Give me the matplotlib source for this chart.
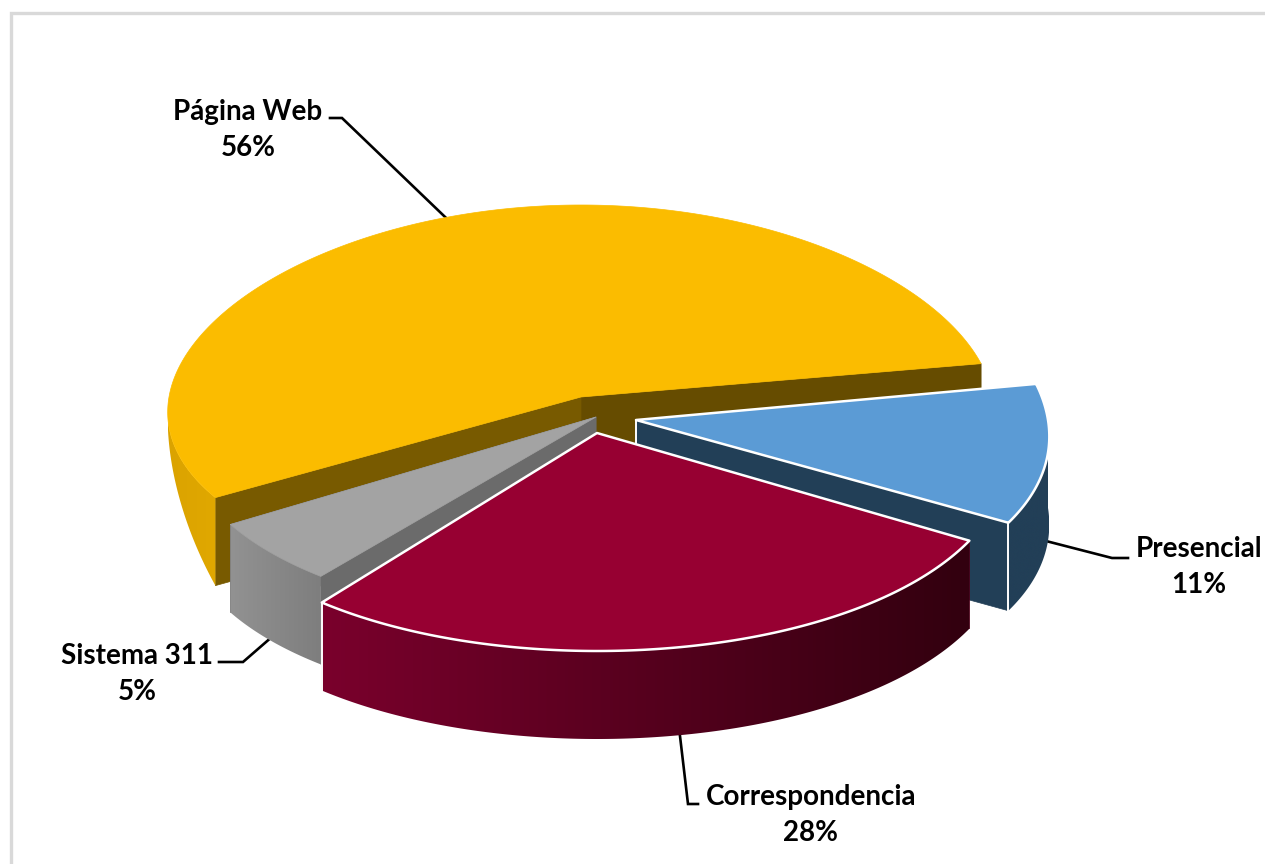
import matplotlib
matplotlib.use("Agg")
import matplotlib.pyplot as plt
import numpy as np
from matplotlib.colors import LinearSegmentedColormap
from matplotlib.patches import Polygon

# Data, clockwise from the Pagina Web slice (labels show them rounded)
categories = ["Página Web", "Sistema 311", "Correspondencia", "Presencial"]
values = [56, 5.4, 27.6, 11]

# Look of each slice: top colour, cut face colours, wall gradient
top_colors = ["#fbbc00", "#a3a3a3", "#970032", "#5b9bd5"]
face_colors = [("#785a00", "#664c00"), ("#6b6b6b", "#6b6b6b"),
               ("#5c001e", "#5c001e"), ("#223f57", "#223f57")]
wall_colors = [("#dba300", "#e0a800"), ("#929292", "#7e7e7e"),
               ("#7a002c", "#32000f"), ("#223f57", "#223f57")]
edge_colors = [None, None, "white", "white"]

# Layout in reference pixels
centers = [(581, 397), (596, 417), (597, 433), (636, 420)]
radii_y = [192, 205, 218, 208]
radius_x = 412
depth = 88
perspective = 0.08
start_angle = 10  # where the yellow slice starts, counter clockwise from east
# the yellow wall gets shallower towards the far left
tapered_wall = [True, False, False, False]

# Label centre and elbow of each leader line
label_pos = [(248, 130), (137, 674), (811, 815), (1199, 567)]
elbows = [((330, 118), (342, 118)), ((219, 662), (243, 662)),
          ((698, 804), (688, 804)), ((1128, 558), (1112, 558))]
# outer point sits on the top rim for the back slice, on the wall foot for the rest
leader_on_wall = [False, True, True, True]


def rim(center, ry, angles):
    """Points of the slightly perspective ellipse for angles in degrees"""
    t = np.radians(angles)
    x = center[0] + radius_x * np.cos(t) * (1 - perspective * np.sin(t))
    y = center[1] - ry * np.sin(t)
    return np.column_stack([x, y])


def draw_face(ax, center, ry, angle, color):
    tip = rim(center, ry, np.array([angle]))[0]
    pts = [tip, center, (center[0], center[1] + depth), (tip[0], tip[1] + depth)]
    ax.add_patch(Polygon(pts, closed=True, fc=color, ec=color, lw=0.5))


def draw_wall(ax, center, ry, a0, a1, colors, tapered):
    lo, hi = max(a0, 180), min(a1, 360)
    if hi <= lo:
        return
    angles = np.linspace(lo, hi, 200)
    arc = rim(center, ry, angles)
    offset = np.full(len(angles), float(depth))
    if tapered:
        s = np.clip(-np.sin(np.radians(angles)), 0, None)
        offset = depth * (s / s.max()) ** 1.4
    low = arc + np.column_stack([np.zeros(len(angles)), offset])
    pts = np.vstack([arc, low[::-1]])
    patch = Polygon(pts, closed=True, fc="none", ec="none")
    ax.add_patch(patch)
    cmap = LinearSegmentedColormap.from_list("wall", colors)
    img = ax.imshow(np.linspace(0, 1, 256)[None, :], cmap=cmap, aspect="auto",
                    extent=(pts[:, 0].min(), pts[:, 0].max(), pts[:, 1].max(), pts[:, 1].min()),
                    zorder=patch.get_zorder())
    img.set_clip_path(patch)


def create_chart(output_path="out.png"):
    fig = plt.figure(figsize=(12.65, 8.64), dpi=100, facecolor="white")
    ax = fig.add_axes([0, 0, 1, 1])
    ax.set_axis_off()

    # Outer chart frame, only left and top show in the crop
    ax.plot([11, 11, 1265], [864, 13, 13], color="#d9d9d9", lw=2.4, solid_joinstyle="miter")

    # Slice angles come from the values
    spans = []
    a = start_angle
    for v in values:
        spans.append((a, a + v * 3.6))
        a += v * 3.6

    # Leader lines go under the slices
    for i in range(len(values)):
        mid = sum(spans[i]) / 2
        pt = rim(centers[i], radii_y[i], np.array([mid]))[0]
        if leader_on_wall[i]:
            pt = pt + [0, depth - 2]
        e0, e1 = elbows[i]
        ax.plot([e0[0], e1[0], pt[0]], [e0[1], e1[1], pt[1]], color="black", lw=1.9,
                solid_joinstyle="miter", zorder=1)

    # Painter's order: back slice, then gray, blue, and red last
    for i in [0, 1, 3, 2]:
        c, ry = centers[i], radii_y[i]
        a0, a1 = spans[i]
        draw_face(ax, c, ry, a0, face_colors[i][1])
        draw_face(ax, c, ry, a1, face_colors[i][0])
        draw_wall(ax, c, ry, a0, a1, wall_colors[i], tapered_wall[i])
        ec = edge_colors[i]
        if ec:
            # white lines down the corner and the apex, same zorder as the patches
            corner = rim(c, ry, np.array([a0]))[0]
            ax.plot([corner[0], corner[0]], [corner[1], corner[1] + depth], color=ec, lw=1.4, zorder=1)
            ax.plot([c[0], c[0]], [c[1], c[1] + depth], color=ec, lw=1.4, zorder=1)
        arc = rim(c, ry, np.linspace(a0, a1, 300))
        top = np.vstack([[c], arc])
        ax.add_patch(Polygon(top, closed=True, fc=top_colors[i],
                             ec=ec if ec else top_colors[i], lw=1.8 if ec else 0.5,
                             joinstyle="round"))

    for name, v, pos in zip(categories, values, label_pos):
        ax.text(pos[0], pos[1], f"{name}\n{v:.0f}%", ha="center", va="center", color="black",
                family="Lato", fontweight="bold", fontsize=20, linespacing=1.48)

    ax.set_xlim(0, 1265)
    ax.set_ylim(864, 0)
    fig.savefig(output_path, dpi=100)


if __name__ == "__main__":
    create_chart()
